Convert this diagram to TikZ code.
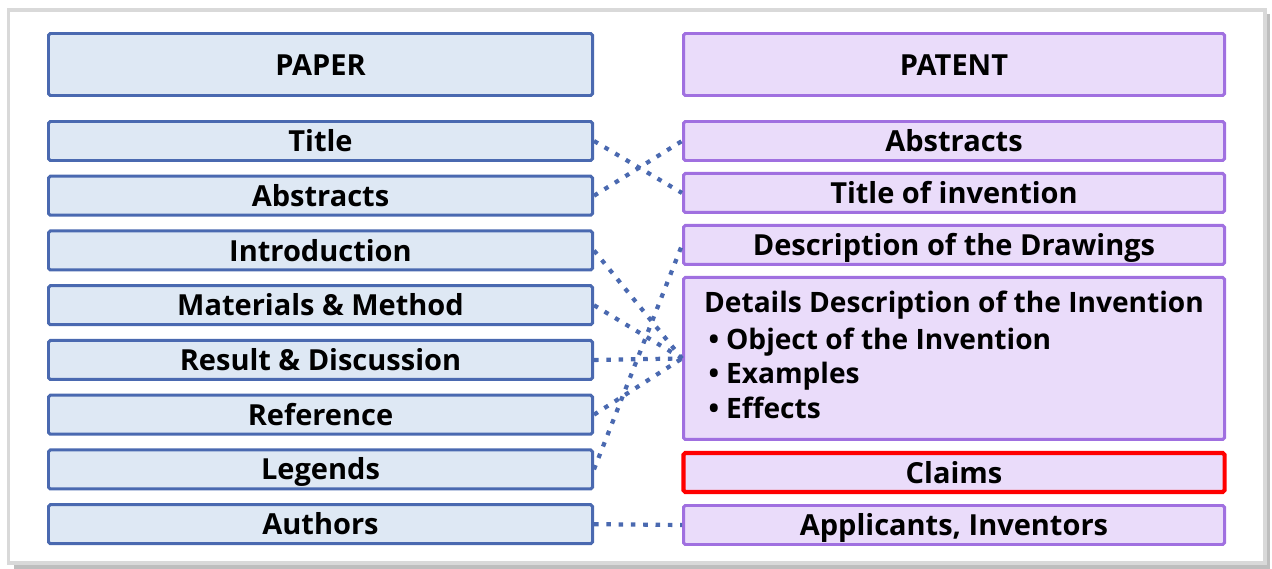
\documentclass[tikz,border=0pt]{standalone}
\usepackage{fontspec}
\setmainfont{Open Sans}
\usetikzlibrary{positioning}
\definecolor{paperline}{RGB}{74,105,176}
\definecolor{paperfill}{RGB}{222,232,244}
\definecolor{patentline}{RGB}{160,112,224}
\definecolor{patentfill}{RGB}{234,220,250}
\definecolor{frameline}{RGB}{217,217,217}
\definecolor{frameshadow}{RGB}{190,190,190}
\tikzset{paper box/.style={draw=paperline, fill=paperfill, line width=1.7pt, rounded corners=1pt,
    minimum width=10.88cm, minimum height=0.78cm, inner sep=0pt, text height=12pt, text depth=0pt,
    font=\bfseries\fontsize{16.5}{19.8}\selectfont},
  patent box/.style={paper box, draw=patentline, fill=patentfill, minimum width=10.82cm},
  link it/.style={draw=paperline, line width=2.4pt, dash pattern=on 2.6pt off 4.4pt}}
\newcommand{\itembul}{\hspace{2.5pt}\textbullet\hspace{4pt}}
\begin{document}
\begin{tikzpicture}
\useasboundingbox (0,0) rectangle (25.44,-11.38);
\draw[frameshadow, line width=2pt] (25.36,-0.28) -- (25.36,-11.34) -- (0.28,-11.34);
\draw[frameline, line width=2pt] (0.17,-0.2) rectangle (25.3,-11.26);
% paper side
\node[paper box, minimum height=1.24cm] (paper) at (6.41,-1.29) {PAPER};
\node[paper box] (p-title) at (6.41,-2.82) {Title};
\begin{scope}[node distance=0.255cm]
\node[paper box, below=of p-title] (p-abs) {Abstracts};
\node[paper box, below=of p-abs] (p-intro) {Introduction};
\node[paper box, below=of p-intro] (p-mat) {Materials \& Method};
\node[paper box, below=of p-mat] (p-res) {Result \& Discussion};
\node[paper box, below=of p-res] (p-ref) {Reference};
\node[paper box, below=of p-ref] (p-leg) {Legends};
\node[paper box, below=of p-leg] (p-auth) {Authors};
\end{scope}
% patent side
\node[patent box, minimum height=1.24cm] (patent) at (19.08,-1.29) {PATENT};
\node[patent box] (t-abs) at (19.08,-2.82) {Abstracts};
\begin{scope}[node distance=0.2cm]
\node[patent box, below=of t-abs] (t-title) {Title of invention};
\node[patent box, below=of t-title] (t-draw) {Description of the Drawings};
\node[patent box, below=of t-draw, minimum height=3.24cm, align=left, anchor=north,
  text height=, text depth=, font=\bfseries\fontsize{16}{19.8}\selectfont] (t-det) {Details Description of the Invention\\[1pt]
  \itembul Object of the Invention\\
  \itembul Examples\\
  \itembul Effects\rule[-4pt]{0pt}{0pt}};
\node[patent box, below=of t-det, draw=red, line width=2.3pt] (t-claim) {Claims};
\node[patent box, below=of t-claim] (t-appl) {Applicants, Inventors};
\end{scope}
% links
\path[link it]
  (p-title.east) edge (t-title.west)
  (p-abs.east) edge (t-abs.west)
  (p-intro.east) edge (t-det.west)
  (p-mat.east) edge (t-det.west)
  (p-res.east) edge (t-det.west)
  (p-ref.east) edge (t-det.west)
  (p-leg.east) edge (t-draw.west)
  (p-auth.east) edge (t-appl.west);
\end{tikzpicture}
\end{document}
